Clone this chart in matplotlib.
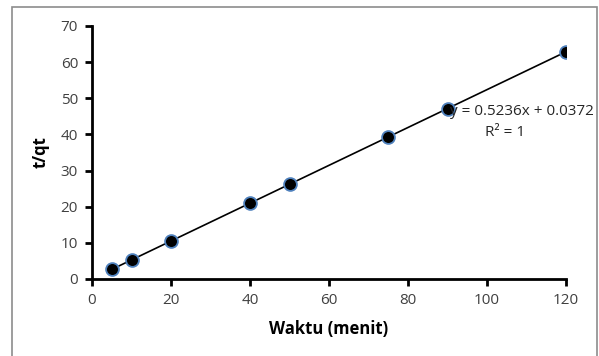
import matplotlib.pyplot as plt
from matplotlib.patches import Rectangle
import numpy as np

# data
waktu = [5, 10, 20, 40, 50, 75, 90, 120]
t_qt = [2.65, 5.27, 10.51, 20.98, 26.22, 39.31, 47.16, 62.87]
slope = 0.5236
intercept = 0.0372
eq_label = 'y = 0.5236x + 0.0372'
r2_label = 'R² = 1'

plt.rcParams['font.family'] = ['Open Sans', 'DejaVu Sans']

fig = plt.figure(figsize=(5.99, 3.56), dpi=100)
fig.patch.set_facecolor('white')
ax = fig.add_axes([0.1536, 0.2163, 0.7914, 0.7107])

# outer chart border
fig.add_artist(Rectangle((12 / 599, -0.05), 585 / 599, 1 - 7 / 356 + 0.05,
                         transform=fig.transFigure, fill=False,
                         edgecolor='#8c8c8c', linewidth=1.2))

# trendline
xs = np.array([waktu[0], waktu[-1]])
ax.plot(xs, slope * xs + intercept, color='black', lw=1.2, zorder=2)

ax.scatter(waktu, t_qt, s=85, color='black', edgecolors='#4f81bd',
           linewidths=1.3, zorder=3)

ax.set_xlim(0, 120)
ax.set_ylim(0, 70)
ax.set_xticks(range(0, 121, 20))
ax.set_yticks(range(0, 71, 10))

for s in ['top', 'right']:
    ax.spines[s].set_visible(False)
for s in ['left', 'bottom']:
    ax.spines[s].set_linewidth(2)
ax.tick_params(direction='out', length=5, width=2, colors='black',
               labelcolor='#404040', labelsize=11, pad=5)

ax.set_xlabel('Waktu (menit)', fontsize=12, fontweight='bold', labelpad=9)
ax.set_ylabel('t/qt', fontsize=12, fontweight='bold', labelpad=8)

ax.text(90.5, 46.4, eq_label, fontsize=11, color='#262626', va='center', ha='left')
ax.text(104.5, 40.6, r2_label, fontsize=11, color='#262626', va='center', ha='center')

plt.savefig('out.png', dpi=100, facecolor='white')
